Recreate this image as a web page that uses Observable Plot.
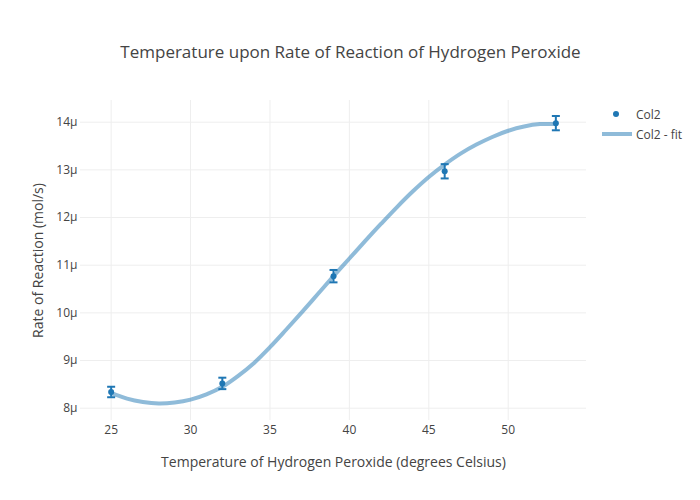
<!DOCTYPE html>
<html>
<head>
<meta charset="utf-8">
<script src="https://cdn.jsdelivr.net/npm/d3@7"></script>
<script src="https://cdn.jsdelivr.net/npm/@observablehq/plot@0.6"></script>
<style>
  html, body { margin: 0; padding: 0; background: #fff; }
  #wrap { position: relative; width: 700px; height: 500px; font-family: "Open Sans", sans-serif; color: #444; }
  #legend { position: absolute; left: 600px; top: 104px; font-size: 12px; color: #444; }
  .li { display: flex; align-items: center; height: 20px; }
  .li svg { width: 34px; height: 20px; margin-right: 2px; }
</style>
</head>
<body>
<div id="wrap">
  <div id="chart"></div>
  <div id="legend">
    <div class="li"><svg><circle cx="16" cy="10" r="3" fill="#1f77b4"/></svg><span>Col2</span></div>
    <div class="li"><svg><line x1="2" x2="32" y1="10" y2="10" stroke="#1f77b4" stroke-opacity="0.5" stroke-width="4"/></svg><span>Col2 - fit</span></div>
  </div>
</div>
<script>
const temps = [25, 32, 39, 46, 53];
const rates = [8.34, 8.52, 10.77, 12.97, 13.98];
const errs = [0.11, 0.12, 0.13, 0.15, 0.15];
const fitTemps = [25, 26, 27, 28, 29, 30, 31, 32, 33, 34, 35, 36, 37, 38, 39, 40, 41, 42, 43, 44, 45, 46, 47, 48, 49, 50, 51, 52, 53];
const fitRates = [8.32, 8.20, 8.13, 8.10, 8.12, 8.18, 8.29, 8.45, 8.68, 8.95, 9.28, 9.64, 10.01, 10.39, 10.77, 11.14, 11.51, 11.87, 12.22, 12.55, 12.85, 13.11, 13.34, 13.53, 13.69, 13.82, 13.91, 13.96, 13.96];
const xTicks = [25, 30, 35, 40, 45, 50];
const yTicks = [8, 9, 10, 11, 12, 13, 14];

const title = "Temperature upon Rate of Reaction of Hydrogen Peroxide";
const xTitle = "Temperature of Hydrogen Peroxide (degrees Celsius)";
const yTitle = "Rate of Reaction (mol/s)";

const points = temps.map((t, i) => ({t, r: rates[i], lo: rates[i] - errs[i], hi: rates[i] + errs[i]}));
const fit = fitTemps.map((t, i) => ({t, r: fitRates[i]}));

const cap = {
  draw(ctx, size) {
    const w = Math.sqrt(size / Math.PI);
    ctx.moveTo(-w, 0);
    ctx.lineTo(w, 0);
  }
};

const blue = "#1f77b4";

const chart = Plot.plot({
  width: 700,
  height: 500,
  marginLeft: 80,
  marginRight: 114,
  marginTop: 100,
  marginBottom: 80,
  style: {fontFamily: "'Open Sans', sans-serif", fontSize: "12px", color: "#444", background: "#fff"},
  x: {domain: [23.07, 54.93]},
  y: {domain: [7.742, 14.455]},
  marks: [
    Plot.gridX(xTicks, {stroke: "#eee", strokeOpacity: 1}),
    Plot.gridY(yTicks, {stroke: "#eee", strokeOpacity: 1}),
    Plot.axisX(xTicks, {tickSize: 0, tickPadding: 5, label: null, fontSize: 12}),
    Plot.axisY(yTicks, {tickSize: 0, tickPadding: 3, label: null, fontSize: 12, tickFormat: d => d + "μ"}),
    Plot.line(fit, {x: "t", y: "r", stroke: blue, strokeOpacity: 0.5, strokeWidth: 4, curve: "catmull-rom"}),
    Plot.ruleX(points, {x: "t", y1: "lo", y2: "hi", stroke: blue, strokeWidth: 2}),
    Plot.dot(points, {x: "t", y: "lo", symbol: cap, r: 4, stroke: blue, strokeWidth: 2, fill: "none"}),
    Plot.dot(points, {x: "t", y: "hi", symbol: cap, r: 4, stroke: blue, strokeWidth: 2, fill: "none"}),
    Plot.dot(points, {x: "t", y: "r", r: 3, fill: blue}),
    Plot.text([title], {frameAnchor: "top", dy: -55, dx: 17, fontSize: 17, fill: "#444"}),
    Plot.text([xTitle], {frameAnchor: "bottom", dy: 46, fontSize: 14, fill: "#444"}),
    Plot.text([yTitle], {frameAnchor: "left", dx: -42, rotate: -90, textAnchor: "middle", fontSize: 14, fill: "#444"})
  ]
});
document.getElementById("chart").appendChild(chart);
</script>
</body>
</html>
